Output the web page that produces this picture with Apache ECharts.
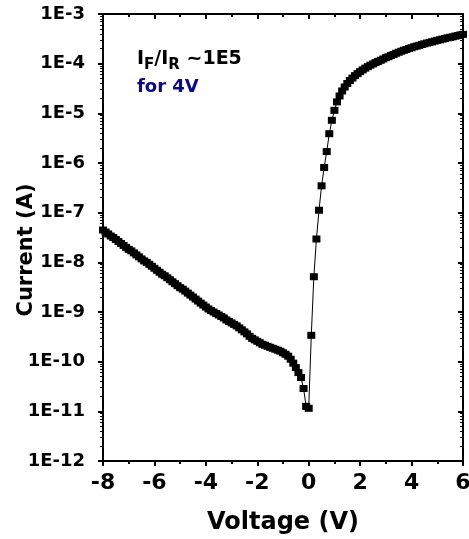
<!DOCTYPE html>
<html>
<head>
<meta charset="utf-8">
<script src="https://cdn.jsdelivr.net/npm/echarts@6/dist/echarts.min.js"></script>
<style>
html,body{margin:0;padding:0;background:#fff;}
#chart{width:469px;height:539px;}
</style>
</head>
<body>
<div id="chart"></div>
<script>
// Voltage (V)
const voltage = [
  -8.0,-7.9,-7.8,-7.7,-7.6,-7.5,-7.4,-7.3,-7.2,-7.1,
  -7.0,-6.9,-6.8,-6.7,-6.6,-6.5,-6.4,-6.3,-6.2,-6.1,
  -6.0,-5.9,-5.8,-5.7,-5.6,-5.5,-5.4,-5.3,-5.2,-5.1,
  -5.0,-4.9,-4.8,-4.7,-4.6,-4.5,-4.4,-4.3,-4.2,-4.1,
  -4.0,-3.9,-3.8,-3.7,-3.6,-3.5,-3.4,-3.3,-3.2,-3.1,
  -3.0,-2.9,-2.8,-2.7,-2.6,-2.5,-2.4,-2.3,-2.2,-2.1,
  -2.0,-1.9,-1.8,-1.7,-1.6,-1.5,-1.4,-1.3,-1.2,-1.1,
  -1.0,-0.9,-0.8,-0.7,-0.6,-0.5,-0.4,-0.3,-0.2,-0.1,
  0.0,
  0.1,0.2,0.3,0.4,0.5,0.6,0.7,0.8,0.9,1.0,
  1.1,1.2,1.3,1.4,1.5,1.6,1.7,1.8,1.9,2.0,
  2.1,2.2,2.3,2.4,2.5,2.6,2.7,2.8,2.9,3.0,
  3.1,3.2,3.3,3.4,3.5,3.6,3.7,3.8,3.9,4.0,
  4.1,4.2,4.3,4.4,4.5,4.6,4.7,4.8,4.9,5.0,
  5.1,5.2,5.3,5.4,5.5,5.6,5.7,5.8,5.9,6.0
];
// Current (A)
const current = [
  4.47e-8,4.07e-8,3.72e-8,3.39e-8,3.16e-8,2.88e-8,2.63e-8,2.40e-8,2.19e-8,2.00e-8,
  1.82e-8,1.70e-8,1.55e-8,1.41e-8,1.29e-8,1.17e-8,1.07e-8,1.00e-8,9.12e-9,8.32e-9,
  7.59e-9,6.92e-9,6.31e-9,5.75e-9,5.37e-9,4.90e-9,4.47e-9,4.07e-9,3.72e-9,3.39e-9,
  3.09e-9,2.88e-9,2.63e-9,2.40e-9,2.19e-9,2.00e-9,1.82e-9,1.66e-9,1.51e-9,1.38e-9,
  1.26e-9,1.15e-9,1.07e-9,1.00e-9,9.33e-10,8.71e-10,8.13e-10,7.59e-10,6.92e-10,6.46e-10,
  6.03e-10,5.62e-10,5.25e-10,4.79e-10,4.37e-10,3.98e-10,3.63e-10,3.24e-10,2.95e-10,2.75e-10,
  2.57e-10,2.40e-10,2.24e-10,2.14e-10,2.04e-10,1.95e-10,1.86e-10,1.78e-10,1.70e-10,1.62e-10,
  1.51e-10,1.41e-10,1.29e-10,1.12e-10,9.33e-11,7.59e-11,6.03e-11,4.79e-11,2.88e-11,1.26e-11,
  1.15e-11,
  3.39e-10,5.13e-9,2.95e-8,1.12e-7,3.47e-7,8.13e-7,1.70e-6,3.89e-6,7.24e-6,1.15e-5,
  1.70e-5,2.24e-5,2.82e-5,3.39e-5,3.98e-5,4.57e-5,5.13e-5,5.75e-5,6.31e-5,6.92e-5,
  7.50e-5,8.13e-5,8.71e-5,9.33e-5,9.89e-5,1.05e-4,1.11e-4,1.17e-4,1.24e-4,1.32e-4,
  1.38e-4,1.46e-4,1.53e-4,1.62e-4,1.70e-4,1.78e-4,1.86e-4,1.93e-4,2.02e-4,2.09e-4,
  2.19e-4,2.26e-4,2.34e-4,2.43e-4,2.51e-4,2.60e-4,2.69e-4,2.75e-4,2.85e-4,2.95e-4,
  3.02e-4,3.13e-4,3.20e-4,3.31e-4,3.39e-4,3.47e-4,3.59e-4,3.67e-4,3.80e-4,3.89e-4
];
const xTicks = [-8, -6, -4, -2, 0, 2, 4, 6];
const yTickLabels = ['1E-12','1E-11','1E-10','1E-9','1E-8','1E-7','1E-6','1E-5','1E-4','1E-3'];

const FONT = 'DejaVu Sans';
const chart = echarts.init(document.getElementById('chart'), null, {renderer: 'canvas'});
const points = voltage.map((v, i) => [v, current[i]]);

function yLabel(v) {
  const e = Math.round(Math.log10(v));
  const s = '1E' + e;
  return yTickLabels.indexOf(s) >= 0 ? s : '';
}

const axisLine = {show: true, onZero: false, lineStyle: {color: '#000', width: 2}};
chart.setOption({
  animation: false,
  backgroundColor: '#fff',
  grid: {left: 103, right: 6, top: 14, bottom: 78, containLabel: false, outerBoundsMode: 'none'},
  xAxis: [{
    type: 'value', position: 'bottom', min: xTicks[0], max: xTicks[xTicks.length - 1], interval: 2,
    axisLine: axisLine,
    axisTick: {show: true, length: 5, inside: false, lineStyle: {width: 2, color: '#000'}},
    minorTick: {show: true, splitNumber: 2, length: 3, lineStyle: {width: 2, color: '#000'}},
    splitLine: {show: false},
    axisLabel: {fontFamily: FONT, fontWeight: 'bold', fontSize: 22, color: '#000', margin: 11},
    name: 'Voltage (V)', nameLocation: 'middle', nameGap: 50, nameMoveOverlap: false,
    nameTextStyle: {fontFamily: FONT, fontWeight: 'bold', fontSize: 24, color: '#000'}
  }, {
    type: 'value', position: 'top', min: xTicks[0], max: xTicks[xTicks.length - 1], interval: 2,
    axisLine: axisLine,
    axisTick: {show: true, length: 5, inside: true, lineStyle: {width: 2, color: '#000'}},
    minorTick: {show: true, splitNumber: 2, length: 3, lineStyle: {width: 2, color: '#000'}},
    splitLine: {show: false},
    axisLabel: {show: false}
  }],
  yAxis: [{
    type: 'log', logBase: 10, position: 'left', min: 1e-12, max: 1e-3, splitNumber: 9,
    axisLine: axisLine,
    axisTick: {show: true, length: 5, inside: false, lineStyle: {width: 2, color: '#000'}},
    minorTick: {show: true, splitNumber: 9, length: 3, lineStyle: {width: 1, color: '#000'}},
    splitLine: {show: false},
    axisLabel: {fontFamily: FONT, fontWeight: 'bold', fontSize: 18, color: '#000', margin: 18, formatter: yLabel},
    name: 'Current (A)', nameLocation: 'middle', nameGap: 66, nameMoveOverlap: false,
    nameTextStyle: {fontFamily: FONT, fontWeight: 'bold', fontSize: 21, color: '#000', padding: [0, 25, 0, 0]}
  }, {
    type: 'log', logBase: 10, position: 'right', min: 1e-12, max: 1e-3, splitNumber: 9,
    axisLine: axisLine,
    axisTick: {show: true, length: 5, inside: true, lineStyle: {width: 2, color: '#000'}},
    minorTick: {show: true, splitNumber: 9, length: 3, lineStyle: {width: 1, color: '#000'}},
    splitLine: {show: false},
    axisLabel: {show: false}
  }],
  graphic: [{
    type: 'text', left: 137, top: 50, z: 10,
    style: {
      text: '{m|I}{s|F}{m|/I}{s|R}{m| ~1E5}',
      rich: {
        m: {fontFamily: FONT, fontWeight: 'bold', fontSize: 19, color: '#000', verticalAlign: 'top', lineHeight: 26},
        s: {fontFamily: FONT, fontWeight: 'bold', fontSize: 15, color: '#000', verticalAlign: 'top', lineHeight: 26, padding: [8, 0, 0, 0]}
      }
    }
  }, {
    type: 'text', left: 137, top: 78, z: 10,
    style: {text: 'for 4V', fontFamily: FONT, fontWeight: 'bold', fontSize: 18, fill: '#0b0b8a'}
  }],
  series: [{
    type: 'line', xAxisIndex: 0, yAxisIndex: 0,
    data: points,
    symbol: 'rect', symbolSize: [8, 7],
    itemStyle: {color: '#000'},
    lineStyle: {color: '#000', width: 1},
    clip: false
  }]
});
</script>
</body>
</html>
